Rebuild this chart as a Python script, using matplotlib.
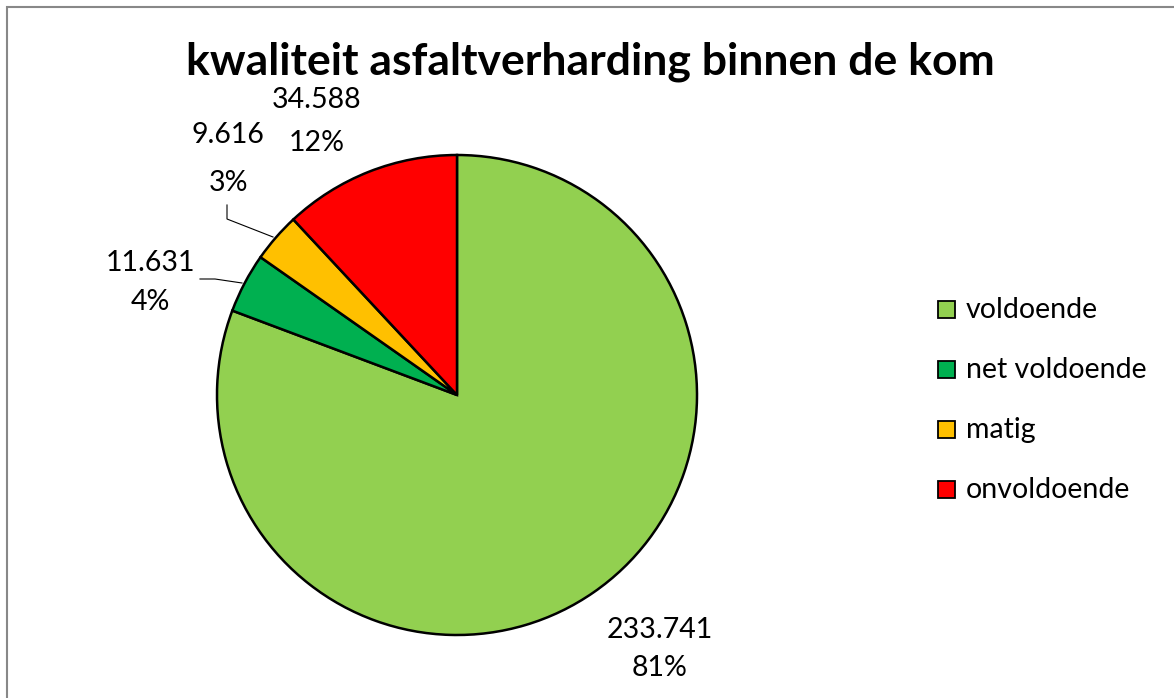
import matplotlib
matplotlib.use("Agg")
import matplotlib.pyplot as plt
from matplotlib.patches import Rectangle
from matplotlib.lines import Line2D

categories = ["voldoende", "net voldoende", "matig", "onvoldoende"]
values = [233.741, 11.631, 9.616, 34.588]
value_labels = ["233.741", "11.631", "9.616", "34.588"]
colors = ["#92D050", "#00B050", "#FFC000", "#FF0000"]
title = "kwaliteit asfaltverharding binnen de kom"

W, H = 1174, 698
fig = plt.figure(figsize=(W / 100, H / 100), dpi=100)
plt.rcParams['font.family'] = ['Lato', 'DejaVu Sans']

def fx(px):
    return px / W

def fy(py):
    return 1 - py / H

# outer border
fig.patches.append(Rectangle((fx(7), fy(720)), fx(1200) - fx(7), fy(7) - fy(720),
                             transform=fig.transFigure, fill=False,
                             edgecolor="#888888", linewidth=1.5))

cx, cy, r = 457, 395, 240
ax = fig.add_axes([fx(cx - r), fy(cy + r), (2 * r) / W, (2 * r) / H])
wedges, _ = ax.pie(values, colors=colors, startangle=90, counterclock=False,
                   wedgeprops=dict(edgecolor="black", linewidth=1.8))
ax.set_xlim(-1, 1)
ax.set_ylim(-1, 1)
ax.set_aspect("equal")
for w in wedges:
    w.set_clip_on(False)

fig.text(fx(590), fy(62), title, ha="center", va="center",
         fontsize=32, fontweight="bold")

total = sum(values)
pcts = [f"{round(v / total * 100):d}%" for v in values]
label_pos = [(660, 630, 668), (150, 263, 302), (228, 135, 183), (317, 100, 143)]
for (x, y1, y2), vl, pc in zip(label_pos, value_labels, pcts):
    fig.text(fx(x), fy(y1), vl, ha="center", va="center", fontsize=20.5)
    fig.text(fx(x), fy(y2), pc, ha="center", va="center", fontsize=20.5)

# leader lines
for xs, ys in [([227, 227, 273], [205, 219, 237]),
               ([200, 215, 242], [279, 279, 283])]:
    fig.lines.append(Line2D([fx(v) for v in xs], [fy(v) for v in ys],
                            transform=fig.transFigure, color="black", linewidth=0.8))

# legend
leg_rows = [310, 370, 430, 490]
for yy, c, lab in zip(leg_rows, colors, categories):
    fig.patches.append(Rectangle((fx(938), fy(yy + 8)), 17 / W, 17 / H,
                                 transform=fig.transFigure, facecolor=c,
                                 edgecolor="black", linewidth=1.3))
    fig.text(fx(966), fy(yy), lab, ha="left", va="center", fontsize=20.5)

fig.savefig("out.png", dpi=100)
